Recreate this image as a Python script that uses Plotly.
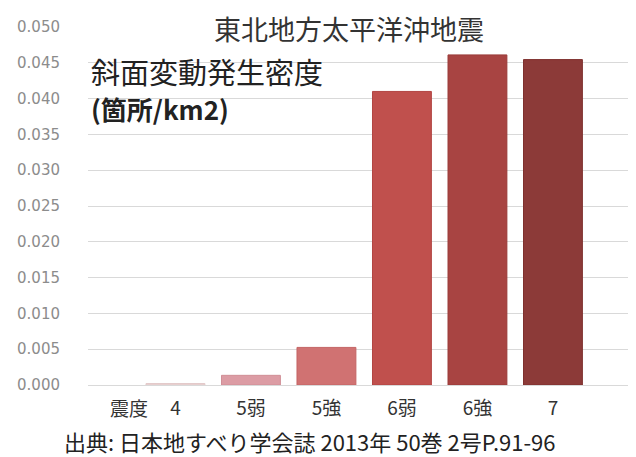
import plotly.graph_objects as go

categories = ["4", "5弱", "5強", "6弱", "6強", "7"]
density = [0.0002, 0.00135, 0.00525, 0.0410, 0.0461, 0.04545]
bar_colors = ["#ecd6d6", "#dc9ca4", "#d07272", "#c0504d", "#a84442", "#8c3a38"]
line_colors = ["#e2c8c8", "#d08e96", "#c46464", "#b24542", "#9a3b39", "#7e302e"]
y_ticks = [0.000, 0.005, 0.010, 0.015, 0.020, 0.025, 0.030, 0.035, 0.040, 0.045, 0.050]

title_text = "東北地方太平洋沖地震"
ylabel_line1 = "斜面変動発生密度"
ylabel_line2 = "(箇所/km2)"
xprefix = "震度"
source_text = "出典: 日本地すべり学会誌 2013年 50巻 2号P.91-96"

FONT = "Noto Sans CJK JP"

fig = go.Figure()
fig.add_trace(go.Bar(
    x=categories, y=density,
    marker=dict(color=bar_colors, line=dict(color=line_colors, width=1)),
    showlegend=False,
))

fig.update_layout(
    width=636, height=457,
    margin=dict(l=80, r=0, t=19, b=80),
    paper_bgcolor="white", plot_bgcolor="white",
    bargap=0.22,
    font=dict(family=FONT, color="#333333"),
    xaxis=dict(
        type="category", range=[-1.158, 6.206],
        showgrid=False, zeroline=False, showline=False,
        ticks="", tickfont=dict(size=19, color="#333333", family=FONT),
        ticklabelstandoff=10,
    ),
    yaxis=dict(
        range=[0, 0.050], tickvals=y_ticks, tickformat=".3f",
        showgrid=True, gridcolor="#d9d9d9", gridwidth=1,
        zeroline=True, zerolinecolor="#d9d9d9", zerolinewidth=1,
        showline=False, ticks="",
        tickfont=dict(size=15, color="#8c8c8c", family="DejaVu Sans"),
        ticklabelstandoff=27,
    ),
    annotations=[
        dict(text=title_text, xref="paper", yref="paper", x=(341 - 80) / 556, y=(377 - 20) / 358,
             xanchor="center", yanchor="middle", showarrow=False, bgcolor="white",
             borderpad=0,
             font=dict(size=27, color="#333333", family=FONT)),
        dict(text=ylabel_line1, xref="paper", yref="paper", x=(81 - 80) / 556, y=(377 - 63) / 358,
             xanchor="left", yanchor="middle", showarrow=False,
             font=dict(size=29, color="#222222", family=FONT)),
        dict(text="<b>" + ylabel_line2 + "</b>", xref="paper", yref="paper", x=(81 - 80) / 556, y=(377 - 100) / 358,
             xanchor="left", yanchor="middle", showarrow=False,
             font=dict(size=26, color="#222222", family=FONT)),
        dict(text=xprefix, xref="paper", yref="paper", x=(121 - 80) / 556, y=(377 - 399) / 358,
             xanchor="center", yanchor="middle", showarrow=False,
             font=dict(size=19, color="#333333", family=FONT)),
        dict(text=source_text, xref="paper", yref="paper", x=(54 - 80) / 556, y=(377 - 433) / 358,
             xanchor="left", yanchor="middle", showarrow=False,
             font=dict(size=22, color="#222222", family=FONT)),
    ],
)

fig.write_html("out.html")
